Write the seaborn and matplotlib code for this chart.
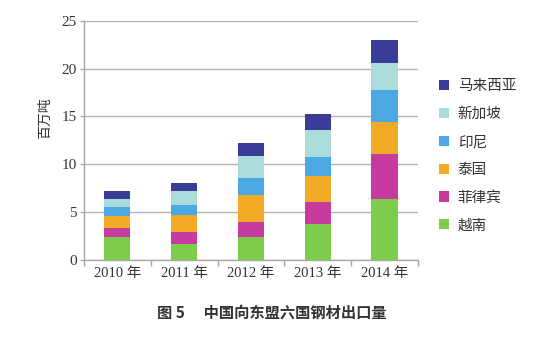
import numpy as np
import pandas as pd
import matplotlib
matplotlib.use("Agg")
import matplotlib.pyplot as plt
import seaborn as sns
from matplotlib.patches import Patch

years = ["2010 年", "2011 年", "2012 年", "2013 年", "2014 年"]
vietnam = [2.36, 1.70, 2.36, 3.75, 6.42]
philippines = [0.97, 1.18, 1.60, 2.26, 4.62]
thailand = [1.25, 1.81, 2.88, 2.74, 3.37]
indonesia = [0.94, 1.04, 1.77, 2.05, 3.30]
singapore = [0.87, 1.46, 2.26, 2.74, 2.92]
malaysia = [0.87, 0.86, 1.39, 1.74, 2.39]

series_names = ["越南", "菲律宾", "泰国", "印尼", "新加坡", "马来西亚"]
series_vals = [vietnam, philippines, thailand, indonesia, singapore, malaysia]
colors = ["#7fcb4b", "#c73a9f", "#f0aa26", "#4aa9e2", "#aadcdb", "#3b3b98"]

sns.set_theme(style="white")
plt.rcParams['font.family'] = ['Noto Sans CJK SC', 'DejaVu Sans']

fig = plt.figure(figsize=(5.42, 3.47), dpi=100)
ax = fig.add_axes([0.155, 0.2507, 0.616, 0.6896])

cum = np.cumsum(np.array(series_vals), axis=0)
for i in range(len(series_names) - 1, -1, -1):
    df = pd.DataFrame({"year": years, "value": cum[i]})
    sns.barplot(data=df, x="year", y="value", color=colors[i], width=0.39,
                linewidth=0, saturation=1, ax=ax, zorder=3)

ax.set_ylim(0, 25)
ax.set_xlim(-0.5, 4.5)
ax.set_yticks([0, 5, 10, 15, 20, 25])
ax.yaxis.grid(True, color="#b4b4b4", linewidth=1, zorder=0)
ax.set_axisbelow(True)
for s in ["top", "right"]:
    ax.spines[s].set_visible(False)
for s in ["left", "bottom"]:
    ax.spines[s].set_color("#a8a8a8")
    ax.spines[s].set_linewidth(1)

serif = ['Liberation Serif', 'Noto Sans CJK SC']
ax.set_xticks(range(5))
ax.set_xticklabels(years, family=serif, fontsize=10.5, color="#333333")
ax.set_xticks(np.arange(-0.5, 5, 1), minor=True)
ax.tick_params(axis="x", which="major", length=0, pad=5)
ax.tick_params(axis="x", which="minor", length=4, color="#a8a8a8", width=1, direction="out", bottom=True)
ax.tick_params(axis="y", length=3, color="#a8a8a8", width=1, left=True, pad=2)
for lbl in ax.get_yticklabels():
    lbl.set_family(serif)
    lbl.set_fontsize(11)
    lbl.set_color("#333333")

ax.set_xlabel("")
ax.set_ylabel("百万吨", fontsize=10, color="#333333")
ax.yaxis.set_label_coords(-0.095, 0.593)

handles = [Patch(facecolor=colors[i], edgecolor="none", label=series_names[i])
           for i in range(len(series_names) - 1, -1, -1)]
leg = ax.legend(handles=handles, loc="upper left", bbox_to_anchor=(1.045, 0.78),
                frameon=False, fontsize=10.5, handlelength=0.7, handleheight=0.7,
                handletextpad=0.6, labelspacing=0.95, borderaxespad=0)
for t in leg.get_texts():
    t.set_color("#333333")

fig.text(0.502, 0.098, "图 5　 中国向东盟六国钢材出口量", ha="center", va="center",
         fontsize=11, fontweight="bold", color="#333333")

fig.savefig("out.png", dpi=100)
